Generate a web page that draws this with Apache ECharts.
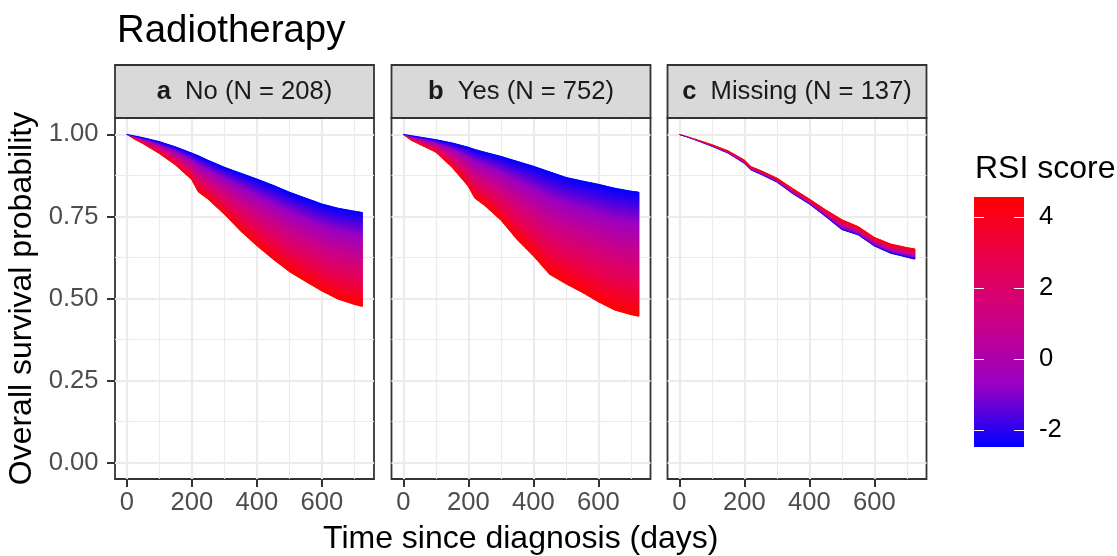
<!DOCTYPE html>
<html><head><meta charset="utf-8">
<script src="https://cdn.jsdelivr.net/npm/echarts@6/dist/echarts.min.js"></script>
<style>html,body{margin:0;padding:0;background:#fff}#c{width:1117px;height:556px}</style>
</head><body><div id="c"></div>
<script>
// ---- data ----
const timeDays    = [0, 25, 50, 100, 150, 200, 220, 250, 300, 350, 400, 450, 500, 550, 600, 650, 700, 724];
const noBlue      = [1, 0.995, 0.990, 0.978, 0.962, 0.943, 0.935, 0.921, 0.900, 0.882, 0.864, 0.845, 0.824, 0.806, 0.788, 0.775, 0.766, 0.762];
const noRed       = [1, 0.985, 0.972, 0.942, 0.907, 0.862, 0.825, 0.803, 0.757, 0.706, 0.661, 0.620, 0.582, 0.552, 0.523, 0.498, 0.482, 0.476];
const yesBlue     = [1, 0.996, 0.992, 0.984, 0.974, 0.961, 0.954, 0.946, 0.933, 0.918, 0.903, 0.886, 0.869, 0.858, 0.848, 0.836, 0.827, 0.824];
const yesRed      = [1, 0.982, 0.970, 0.946, 0.900, 0.842, 0.806, 0.784, 0.739, 0.680, 0.630, 0.574, 0.545, 0.519, 0.490, 0.465, 0.451, 0.446];
const missingBlue = [1, 0.992, 0.983, 0.964, 0.943, 0.912, 0.892, 0.879, 0.855, 0.819, 0.788, 0.750, 0.710, 0.694, 0.660, 0.638, 0.626, 0.620];
const missingRed  = [1, 0.993, 0.985, 0.969, 0.950, 0.922, 0.902, 0.890, 0.867, 0.834, 0.803, 0.770, 0.740, 0.719, 0.686, 0.666, 0.655, 0.651];

const panelLetters = ['a', 'b', 'c'];
const panelNames   = ['No (N = 208)', 'Yes (N = 752)', 'Missing (N = 137)'];
const xMajorTicks = [0, 200, 400, 600];
const xMinorTicks = [100, 300, 500, 700];
const yMajorTicks = [0, 0.25, 0.5, 0.75, 1];
const yMinorTicks = [0.125, 0.375, 0.625, 0.875];
const rsiTicks = [-2, 0, 2, 4];
const rsiMin = -2.48, rsiMax = 4.56;

// ---- styling / layout ----
const FONT = '"Liberation Sans", Arial, sans-serif';
const gradStops = [
  { offset: 0, color: '#0000FF' },
  { offset: 0.25, color: '#9A00C2' },
  { offset: 0.5, color: '#CA0088' },
  { offset: 0.75, color: '#E8004F' },
  { offset: 1, color: '#FF0000' }
];
const PT = 118, PH = 361, PW = 259;
const lefts = [115, 391.5, 667.5];
const stripTop = 65, stripH = 53;
const xMin = -36.2, xMax = 760.2, yMin = -0.05, yMax = 1.05;

const panelsBlue = [noBlue, yesBlue, missingBlue];
const panelsRed = [noRed, yesRed, missingRed];

function segments(blue, red) {
  const out = [];
  for (let i = 0; i < timeDays.length - 1; i++) {
    out.push([timeDays[i], blue[i], red[i], timeDays[i + 1], blue[i + 1], red[i + 1]]);
  }
  return out;
}

function lerp(a, b, f) { return a + (b - a) * f; }

// draws one segment of the band between the blue (low RSI) and red (high RSI) curves,
// cut into thin vertical slices so every slice runs blue -> red from edge to edge
function bandItem(params, api) {
  const p0b = api.coord([api.value(0), api.value(1)]);
  const p0r = api.coord([api.value(0), api.value(2)]);
  const p1b = api.coord([api.value(3), api.value(4)]);
  const p1r = api.coord([api.value(3), api.value(5)]);
  const n = Math.max(1, Math.ceil((p1b[0] - p0b[0]) / 1.5));
  const children = [];
  for (let k = 0; k < n; k++) {
    const f0 = k / n, f1 = (k + 1) / n, fm = (k + 0.5) / n;
    const xa = lerp(p0b[0], p1b[0], f0) - 0.3, xb = lerp(p0b[0], p1b[0], f1) + 0.3;
    const ba = lerp(p0b[1], p1b[1], f0), bb = lerp(p0b[1], p1b[1], f1);
    const ra = lerp(p0r[1], p1r[1], f0), rb = lerp(p0r[1], p1r[1], f1);
    const yb = lerp(p0b[1], p1b[1], fm);
    let yr = lerp(p0r[1], p1r[1], fm);
    if (Math.abs(yr - yb) < 0.5) yr = yb + (yr >= yb ? 0.5 : -0.5);
    const grad = new echarts.graphic.LinearGradient(0, yb, 0, yr, gradStops, true);
    children.push({
      type: 'polygon',
      shape: { points: [[xa, ba], [xb, bb], [xb, rb], [xa, ra]] },
      style: { fill: grad, stroke: grad, lineWidth: 0.9 }
    });
  }
  return { type: 'group', children: children };
}

function barItem(params, api) {
  const a = api.coord([api.value(0), api.value(3)]);
  const b = api.coord([api.value(1), api.value(2)]);
  return {
    type: 'rect',
    shape: { x: a[0], y: a[1], width: b[0] - a[0], height: b[1] - a[1] },
    style: { fill: new echarts.graphic.LinearGradient(0, 1, 0, 0, gradStops) }
  };
}

const grids = [], xAxes = [], yAxes = [], series = [], graphics = [];
for (let i = 0; i < 3; i++) {
  grids.push({ left: lefts[i], top: PT, width: PW, height: PH, show: true,
    backgroundColor: '#fff', borderColor: '#333333', borderWidth: 1.8 });
  xAxes.push({
    type: 'value', gridIndex: i, min: xMin, max: xMax, position: 'bottom',
    axisLine: { show: false, onZero: false },
    axisTick: { show: true, customValues: xMajorTicks, length: 8, lineStyle: { color: '#333333', width: 2 } },
    axisLabel: { show: true, customValues: xMajorTicks, margin: 11, fontSize: 25.6, color: '#4D4D4D', fontFamily: FONT },
    splitLine: { show: true, lineStyle: { color: '#EBEBEB', width: 2.2 } }
  });
  xAxes.push({
    type: 'value', gridIndex: i, min: xMin, max: xMax, position: 'bottom',
    axisLine: { show: false, onZero: false },
    axisTick: { show: false, customValues: xMinorTicks },
    axisLabel: { show: false },
    splitLine: { show: true, lineStyle: { color: '#EBEBEB', width: 1.1 } }
  });
  yAxes.push({
    type: 'value', gridIndex: i, min: yMin, max: yMax, position: 'left',
    axisLine: { show: false, onZero: false },
    axisTick: { show: i === 0, customValues: yMajorTicks, length: 8, lineStyle: { color: '#333333', width: 2 } },
    axisLabel: { show: i === 0, customValues: yMajorTicks, margin: 16.5, fontSize: 25.6, color: '#4D4D4D', fontFamily: FONT,
      formatter: v => v.toFixed(2) },
    splitLine: { show: true, lineStyle: { color: '#EBEBEB', width: 2.2 } }
  });
  yAxes.push({
    type: 'value', gridIndex: i, min: yMin, max: yMax, position: 'left',
    axisLine: { show: false, onZero: false },
    axisTick: { show: false, customValues: yMinorTicks },
    axisLabel: { show: false },
    splitLine: { show: true, lineStyle: { color: '#EBEBEB', width: 1.1 } }
  });
  series.push({
    type: 'custom', xAxisIndex: 2 * i, yAxisIndex: 2 * i,
    renderItem: bandItem,
    encode: { x: [0, 3], y: [1, 2, 4, 5] },
    data: segments(panelsBlue[i], panelsRed[i]),
    silent: true, animation: false
  });
  graphics.push({
    type: 'rect', z: 10,
    shape: { x: lefts[i], y: stripTop, width: PW, height: stripH },
    style: { fill: '#D9D9D9', stroke: '#333333', lineWidth: 1.8 }
  });
  graphics.push({
    type: 'text', z: 11, x: lefts[i] + PW / 2, y: stripTop + stripH / 2 + 0.5,
    style: {
      text: '{b|' + panelLetters[i] + '}  ' + panelNames[i],
      fill: '#1A1A1A', font: '25.6px ' + FONT,
      align: 'center', verticalAlign: 'middle',
      rich: { b: { fontWeight: 'bold', fontSize: 25.6, fontFamily: FONT, fill: '#1A1A1A' } }
    }
  });
}

// colour bar
grids.push({ left: 974, top: 197, width: 50, height: 250, show: false });
xAxes.push({ type: 'value', gridIndex: 3, min: 0, max: 1, show: false });
yAxes.push({
  type: 'value', gridIndex: 3, min: rsiMin, max: rsiMax, position: 'right', z: 10,
  axisLine: { show: false, onZero: false },
  axisTick: { show: true, inside: true, customValues: rsiTicks, length: 10, lineStyle: { color: '#FFFFFF', width: 1 } },
  axisLabel: { show: true, customValues: rsiTicks, margin: 15, fontSize: 25.6, color: '#000000', fontFamily: FONT,
    formatter: v => String(v) },
  splitLine: { show: false }
});
yAxes.push({
  type: 'value', gridIndex: 3, min: rsiMin, max: rsiMax, position: 'left', z: 10,
  axisLine: { show: false, onZero: false },
  axisTick: { show: true, inside: true, customValues: rsiTicks, length: 10, lineStyle: { color: '#FFFFFF', width: 1 } },
  axisLabel: { show: false },
  splitLine: { show: false }
});
series.push({
  type: 'custom', xAxisIndex: 6, yAxisIndex: 6, z: 1,
  renderItem: barItem,
  encode: { x: [0, 1], y: [2, 3] },
  data: [[0, 1, rsiMin, rsiMax]],
  silent: true, animation: false
});

// titles
graphics.push({
  type: 'text', x: (lefts[0] + lefts[2] + PW) / 2, y: 539,
  style: { text: 'Time since diagnosis (days)', fill: '#000', font: '32px ' + FONT, align: 'center', verticalAlign: 'middle' }
});
graphics.push({
  type: 'text', x: 22, y: PT + PH / 2, rotation: Math.PI / 2,
  style: { text: 'Overall survival probability', fill: '#000', font: '32px ' + FONT, align: 'center', verticalAlign: 'middle' }
});
graphics.push({
  type: 'text', x: 975, y: 169,
  style: { text: 'RSI score', fill: '#000', font: '32px ' + FONT, align: 'left', verticalAlign: 'middle' }
});

const chart = echarts.init(document.getElementById('c'), null, { renderer: 'canvas' });
chart.setOption({
  backgroundColor: '#fff',
  animation: false,
  title: { text: 'Radiotherapy', left: 117, top: 12, padding: 0,
    textStyle: { fontSize: 38.4, fontWeight: 'normal', color: '#000', fontFamily: FONT } },
  grid: grids, xAxis: xAxes, yAxis: yAxes, series: series, graphic: graphics
});
</script></body></html>
